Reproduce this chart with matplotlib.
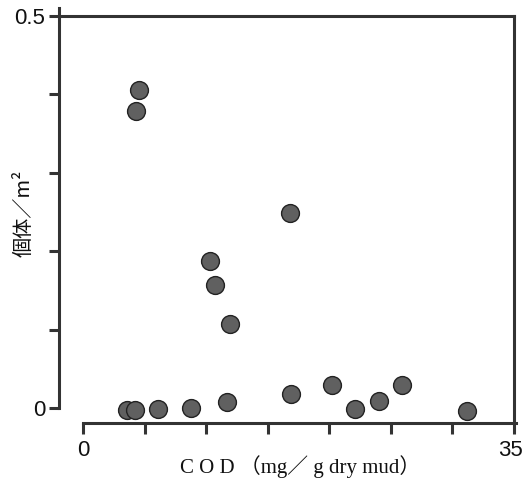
import numpy as np
import matplotlib.pyplot as plt

# COD (mg/g dry mud) と 個体数/m2
cod = [4.55, 4.3, 3.6, 4.2, 6.1, 8.8, 11.7, 10.3, 10.7, 11.9, 16.8, 16.9,
       20.2, 22.1, 24.0, 25.9, 31.2]
density = [0.406, 0.379, -0.003, -0.003, -0.001, 0.0, 0.008, 0.1875, 0.157,
           0.107, 0.249, 0.018, 0.030, -0.001, 0.009, 0.029, -0.004]

x_ticks = [0, 5, 10, 15, 20, 25, 30, 35]
x_labels = ["0", "", "", "", "", "", "", ""]
y_ticks = [0, 0.1, 0.2, 0.3, 0.4, 0.5]
y_labels = ["0", "", "", "", "", "0.5"]

W, H = 524, 482
fig = plt.figure(figsize=(W / 100, H / 100), dpi=100)
ax = fig.add_axes([59 / W, 1 - 423 / H, (514 - 59) / W, (423 - 16) / H])

ax.scatter(cod, density, s=165, c="#606060", edgecolors="#222222",
           linewidths=1.0, zorder=3, clip_on=False)

ax.set_xlim(-1.95, 35)
ax.set_ylim(-0.0191, 0.5)

lc = "#333333"
for s in ax.spines.values():
    s.set_linewidth(2.2)
    s.set_color(lc)
ax.spines["left"].set_bounds(0, 0.51)
ax.spines["bottom"].set_bounds(0, 35.2)

ax.set_xticks(x_ticks)
ax.set_xticklabels(x_labels)
ax.set_yticks(y_ticks)
ax.set_yticklabels(y_labels)
ax.tick_params(axis="both", direction="out", color=lc, width=2.2,
               labelsize=16, labelcolor="#111111")
ax.tick_params(axis="x", length=8, pad=4)
ax.tick_params(axis="y", length=7, pad=3)
for t in ax.get_xticklabels() + ax.get_yticklabels():
    t.set_family(["Liberation Sans", "DejaVu Sans"])

# 右端の「35」は枠の外にはみ出さないよう手で置く
fig.text(510 / W, 1 - 450 / H, "35", fontsize=16, ha="center", va="center",
         family=["Liberation Sans", "DejaVu Sans"], color="#111111")

fig.text(300 / W, 1 - 467 / H, "C O D （mg／ g dry mud）", fontsize=15,
         family=["Liberation Serif", "Noto Sans CJK JP"],
         ha="center", va="center", color="#111111")
fig.text(24 / W, 1 - 213 / H, "個体／m²", fontsize=14.5, rotation=90,
         family=["Noto Sans CJK JP", "DejaVu Sans"],
         ha="center", va="center", color="#111111")

fig.savefig("out.png", dpi=100)
